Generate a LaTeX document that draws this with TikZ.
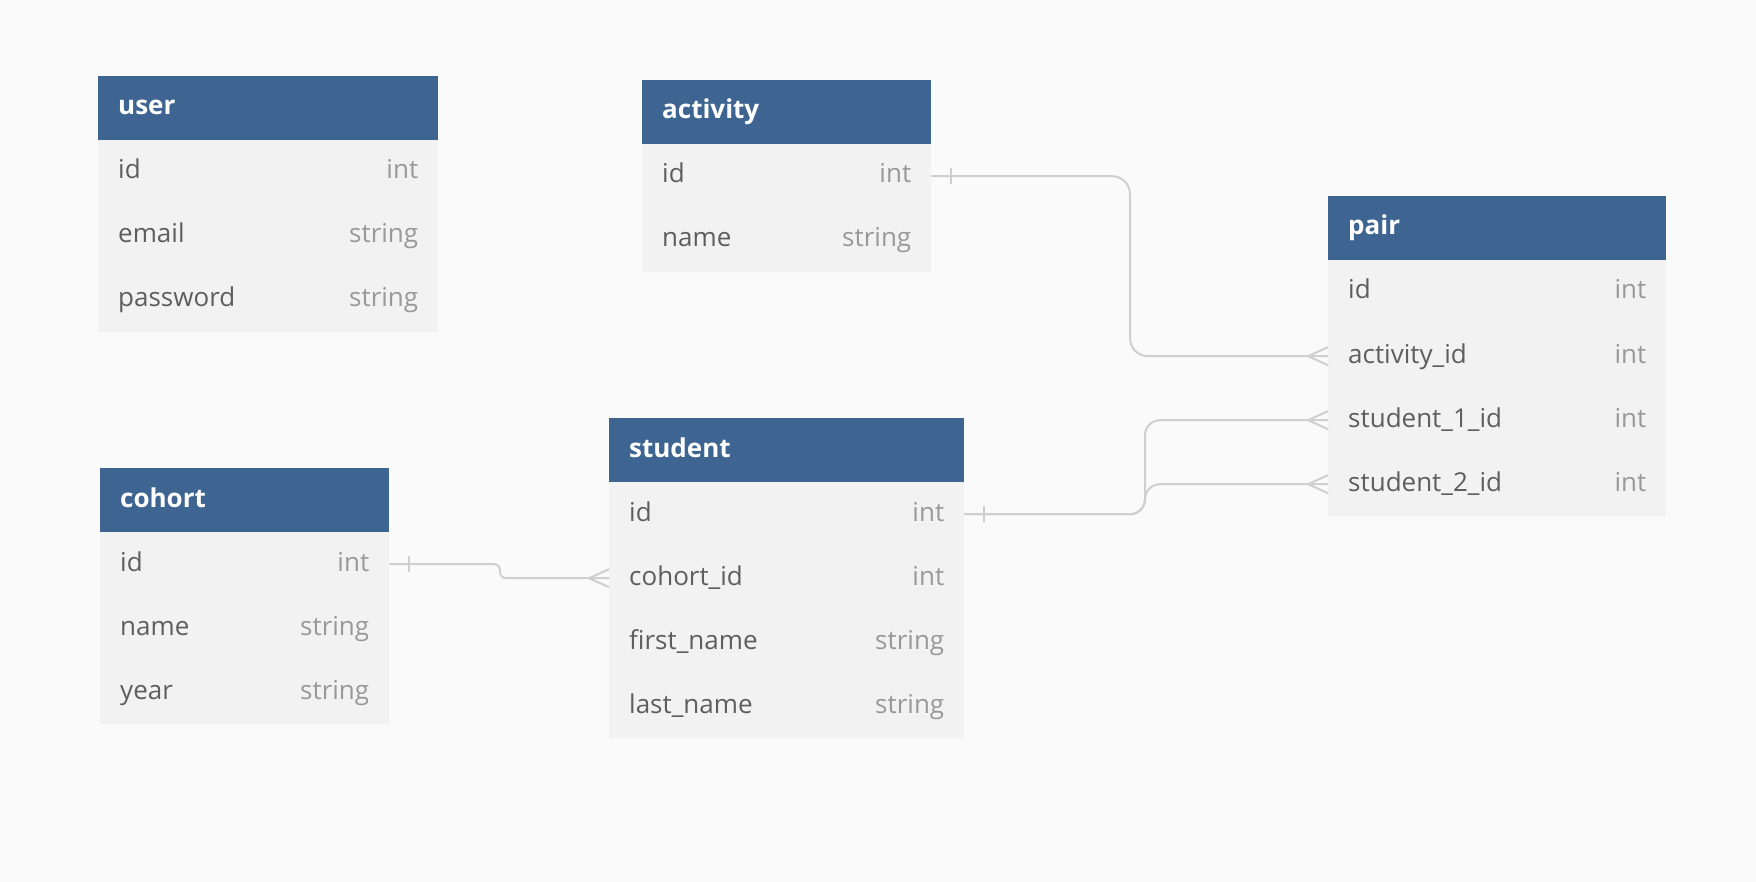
\documentclass[tikz,border=0pt]{standalone}
\usepackage{fontspec}
\newfontfamily\erfont{Open Sans}

\definecolor{canvas}{HTML}{FAFAFA}
\definecolor{erblue}{HTML}{3E6591}
\definecolor{rowgray}{HTML}{F2F2F2}
\definecolor{fieldgray}{HTML}{5E5E5E}
\definecolor{typegray}{HTML}{999999}
\definecolor{linkgray}{HTML}{CFCFCF}

\tikzset{
  erhead/.style={fill=erblue, draw=none, anchor=north west, minimum height=64pt, inner sep=0pt},
  errowbox/.style={fill=rowgray, draw=none, anchor=north west, minimum height=64pt, inner sep=0pt},
  ertitle/.style={anchor=base west, inner sep=0pt, text=white, font=\erfont\bfseries\fontsize{26}{30}\selectfont},
  erfield/.style={anchor=base west, inner sep=0pt, text=fieldgray, font=\erfont\fontsize{26}{30}\selectfont},
  ertype/.style={anchor=base east, inner sep=0pt, text=typegray, font=\erfont\fontsize{26}{30}\selectfont},
  erline/.style={draw=linkgray, line width=2pt},
}

% table: name, left x, top y, width, title, rows key/field/type
\newcommand{\ertable}[6]{%
  \node[erhead, minimum width=#4pt] (#1) at (#2,#3) {};
  \node[ertitle] (#1-title) at ([xshift=20pt,yshift=-39pt]#1.north west) {#5};
  \foreach [count=\i] \k/\f/\t in {#6} {
    \node[errowbox, minimum width=#4pt] (#1-\k) at (#2,{#3+64*\i}) {};
    \node[erfield] (#1-\k-name) at ([xshift=20pt,yshift=-39pt]#1-\k.north west) {\f};
    \node[ertype] (#1-\k-type) at ([xshift=-20pt,yshift=-39pt]#1-\k.north east) {\t};
  }%
}

% "many" end: three prongs meeting the box edge
\newcommand{\manyend}[1]{%
  \draw[erline] ([xshift=-20pt]#1) -- ([yshift=9pt]#1)
                ([xshift=-20pt]#1) -- ([yshift=-9pt]#1);}
% "one" end: a short bar across the line
\newcommand{\oneend}[1]{%
  \draw[erline] ([xshift=20pt,yshift=8pt]#1) -- ([xshift=20pt,yshift=-8pt]#1);}

\begin{document}
\begin{tikzpicture}[x=1pt,y=-1pt]
  \fill[canvas] (0,0) rectangle (1756,882);
  \useasboundingbox (0,0) rectangle (1756,882);

  \ertable{user}{98}{76}{340}{user}{id/id/int, email/email/string, pw/password/string}
  \ertable{activity}{642}{80}{289}{activity}{id/id/int, name/name/string}
  \ertable{pair}{1328}{196}{338}{pair}{id/id/int, aid/activity\_id/int, sa/student\_1\_id/int, sb/student\_2\_id/int}
  \ertable{student}{609}{418}{355}{student}{id/id/int, cid/cohort\_id/int, fn/first\_name/string, ln/last\_name/string}
  \ertable{cohort}{100}{468}{289}{cohort}{id/id/int, name/name/string, year/year/string}

  % vertical runs of the links
  \coordinate (bendact) at (1130,0);
  \coordinate (bendstu) at (1145,0);
  \coordinate (bendcoh) at (500,0);

  \draw[erline, rounded corners=18pt]
    (activity-id.east) -- (activity-id.east -| bendact)
    -- (pair-aid.west -| bendact) -- (pair-aid.west);
  \draw[erline, rounded corners=15pt]
    (student-id.east) -- (student-id.east -| bendstu)
    -- (pair-sa.west -| bendstu) -- (pair-sa.west);
  \draw[erline, rounded corners=15pt]
    (student-id.east) -- (student-id.east -| bendstu)
    -- (pair-sb.west -| bendstu) -- (pair-sb.west);
  \draw[erline, rounded corners=6pt]
    (cohort-id.east) -- (cohort-id.east -| bendcoh)
    -- (student-cid.west -| bendcoh) -- (student-cid.west);

  \oneend{activity-id.east}
  \oneend{student-id.east}
  \oneend{cohort-id.east}
  \manyend{pair-aid.west}
  \manyend{pair-sa.west}
  \manyend{pair-sb.west}
  \manyend{student-cid.west}
\end{tikzpicture}
\end{document}
